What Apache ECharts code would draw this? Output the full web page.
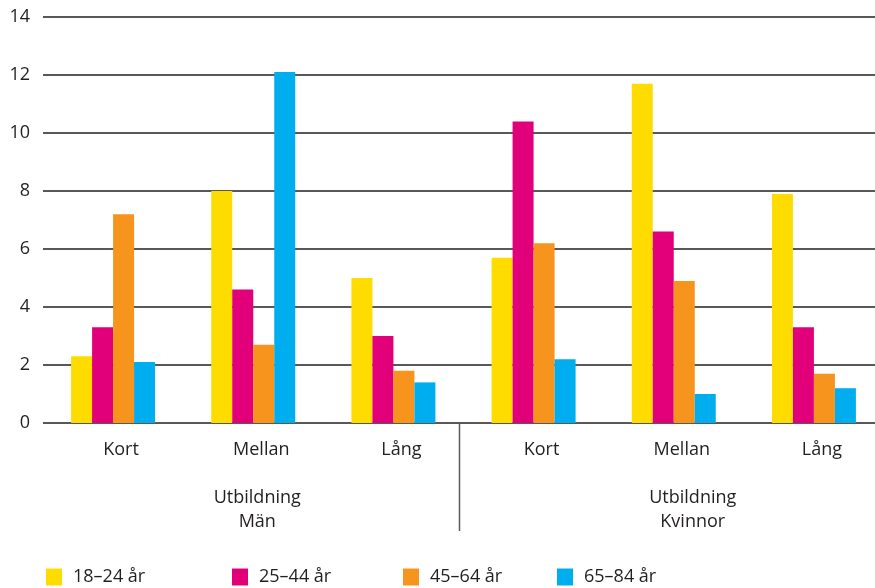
<!DOCTYPE html>
<html>
<head>
<meta charset="utf-8">
<script src="https://cdn.jsdelivr.net/npm/echarts@6/dist/echarts.min.js"></script>
<style>
  html, body { margin: 0; padding: 0; background: #fff; }
  #chart { width: 875px; height: 588px; }
</style>
</head>
<body>
<div id="chart"></div>
<script>
// Categories: education level, grouped by sex
const categories = ['Kort', 'Mellan', 'Lång', 'Kort', 'Mellan', 'Lång'];
const groupLabels = ['', 'Utbildning\nMän', '', '', 'Utbildning\nKvinnor', ''];
const seriesNames = ['18–24 år', '25–44 år', '45–64 år', '65–84 år'];

// Values per age group, in category order
const age18_24 = [2.3, 8.0, 5.0, 5.7, 11.7, 7.9];
const age25_44 = [3.3, 4.6, 3.0, 10.4, 6.6, 3.3];
const age45_64 = [7.2, 2.7, 1.8, 6.2, 4.9, 1.7];
const age65_84 = [2.1, 12.1, 1.4, 2.2, 1.0, 1.2];

const yTicks = { min: 0, max: 14, interval: 2 };

const colors = ['#FFDC00', '#E2007A', '#F7941E', '#00AEEF'];
const seriesData = [age18_24, age25_44, age45_64, age65_84];

const font = '"Open Sans", "Noto Sans", sans-serif';
const textColor = '#231F20';
const legendLeft = [46, 232, 403, 557];

const chart = echarts.init(document.getElementById('chart'));

const option = {
  animation: false,
  color: colors,
  textStyle: { fontFamily: font, color: textColor },
  grid: {
    left: 43, top: 17, width: 841, height: 406,
    containLabel: false, outerBoundsMode: 'none'
  },
  legend: seriesNames.map((name, i) => ({
    data: [name],
    left: legendLeft[i],
    top: 568,
    padding: 0,
    itemWidth: 16,
    itemHeight: 17,
    itemGap: 0,
    icon: 'rect',
    textStyle: { fontFamily: font, fontSize: 18, color: textColor, padding: [2, 0, 0, 6] },
    selectedMode: false
  })),
  xAxis: [
    {
      type: 'category',
      data: categories,
      axisLine: { show: false },
      axisTick: { show: false },
      axisLabel: {
        fontFamily: font, fontSize: 18, color: textColor,
        margin: 18, padding: [0, 0, 0, 16]
      }
    },
    {
      type: 'category',
      data: groupLabels,
      position: 'bottom',
      offset: 0,
      axisLine: { show: false },
      axisTick: { show: false },
      axisLabel: {
        interval: 0,
        fontFamily: font, fontSize: 18, color: textColor,
        lineHeight: 24, margin: 63,
        // the women's group label sits a little further right
        formatter: (value, idx) => {
          if (!value) return '';
          const tag = idx < 3 ? 'm' : 'k';
          return value.split('\n').map(s => '{' + tag + '|' + s + '}').join('\n');
        },
        rich: {
          m: { fontFamily: font, fontSize: 18, color: textColor, lineHeight: 24, padding: [0, 0, 0, 8] },
          k: { fontFamily: font, fontSize: 18, color: textColor, lineHeight: 24, padding: [0, 0, 0, 38] }
        }
      }
    }
  ],
  yAxis: {
    type: 'value',
    min: yTicks.min, max: yTicks.max, interval: yTicks.interval,
    axisLine: { show: false },
    axisTick: { show: false },
    axisLabel: { fontFamily: font, fontSize: 18, color: textColor, margin: 13 },
    splitLine: { show: true, lineStyle: { color: '#231F20', width: 1.5 } }
  },
  series: seriesNames.map((name, i) => ({
    name,
    type: 'bar',
    xAxisIndex: 0,
    data: seriesData[i],
    barWidth: 21,
    barGap: '0%',
    itemStyle: { color: colors[i] }
  }))
};

chart.setOption(option);

// Divider between the two sex groups, placed at the category boundary
const xA = chart.convertToPixel({ xAxisIndex: 0 }, 2);
const xB = chart.convertToPixel({ xAxisIndex: 0 }, 3);
const y0 = chart.convertToPixel({ yAxisIndex: 0 }, 0);
const xSep = (xA + xB) / 2 - 4;
chart.setOption({
  graphic: [{
    type: 'line',
    shape: { x1: xSep, y1: y0, x2: xSep, y2: y0 + 108 },
    style: { stroke: '#5A5A5A', lineWidth: 1.5 },
    silent: true
  }]
});
</script>
</body>
</html>
